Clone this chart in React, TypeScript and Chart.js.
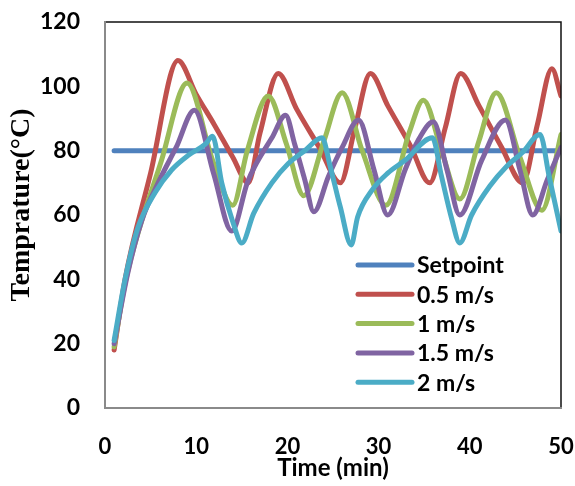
import { useEffect, useRef } from "react";
import { Chart, registerables } from "chart.js";

Chart.register(...registerables);

// Setpoint
const setpointTime = [1, 50];
const setpointTemp = [80, 80];

// 0.5 m/s
const time05 = [1, 2.2, 5, 8, 10, 12, 14, 15.7, 17, 19, 21, 23.5, 25.8, 27.4, 29.1, 31, 33.5, 35.6, 37.3, 39, 41, 43.5, 45.8, 47.4, 49, 50];
const temp05 = [18, 40, 73, 108, 97.5, 88, 78, 70, 85.5, 104, 93, 81, 70, 87, 104, 94, 81.5, 70, 87, 104, 94, 81, 70, 88, 105.5, 97];

// 1 m/s
const time1 = [1, 2.3, 6.2, 9, 11.8, 14, 15.6, 17.9, 19.9, 21.8, 24, 26, 28.2, 30.8, 33.4, 34.9, 37, 38.9, 41, 42.9, 45.5, 47.9, 50];
const temp1 = [19, 40, 77, 101, 77, 63, 80, 97, 82, 66, 83, 98, 80, 63, 86, 95.7, 79, 65, 83, 98, 78, 61.5, 85];

// 1.5 m/s
const time15 = [1, 2.5, 4, 6, 7.8, 9.8, 11.9, 13.9, 15.6, 16.4, 18.3, 19.8, 20.8, 21.9, 22.9, 24.5, 26, 27.8, 29.5, 31, 32.9, 34.3, 36, 37.5, 38.9, 41.3, 43.9, 45.5, 46.9, 48.5, 50];
const temp15 = [20, 42, 58, 71, 81, 92.6, 73, 55, 70, 75, 84, 91, 82, 71, 61, 72, 81, 89.5, 74, 60, 74, 83, 89, 74, 60, 77, 89.5, 74, 60, 71, 81];

// 2 m/s
const time2 = [1, 2.2, 3.6, 5.5, 7.3, 9.1, 11, 11.8, 12.8, 14, 15, 16.3, 18.3, 20.1, 21.9, 23.8, 24.7, 25.8, 27, 27.7, 29.3, 31, 32.9, 35.9, 36.9, 38, 38.9, 40.2, 42.2, 44, 45.8, 47.7, 48.7, 50];
const temp2 = [21, 40, 56, 67, 74, 78.5, 82, 84.5, 70, 58, 51.3, 60.5, 70, 76, 80, 84, 75, 62.5, 50.7, 59.4, 67.8, 73, 77, 84, 72, 59, 51.3, 60, 69, 75, 79.5, 85, 72, 55];

const xTicks = [0, 10, 20, 30, 40, 50];
const yTicks = [0, 20, 40, 60, 80, 100, 120];

const seriesLabels = ["Setpoint", "0.5 m/s", "1 m/s", "1.5 m/s", "2 m/s"];
const seriesColors = ["#4F81BD", "#C0504D", "#9BBB59", "#8064A2", "#4BACC6"];

const LABEL_FONT = "Lato, 'Open Sans', sans-serif";

function toPoints(xs: number[], ys: number[]) {
  return xs.map((x, i) => ({ x, y: ys[i] }));
}

// Box around the plot: dark on top/right, grey on left/bottom
const framePlugin = {
  id: "plotFrame",
  afterDraw(chart: any) {
    const { ctx, chartArea } = chart;
    const { left, right, top, bottom } = chartArea;
    ctx.save();
    ctx.lineCap = "square";
    ctx.strokeStyle = "#111";
    ctx.lineWidth = 1.5;
    ctx.beginPath();
    ctx.moveTo(left, top);
    ctx.lineTo(right, top);
    ctx.lineTo(right, bottom);
    ctx.stroke();
    ctx.strokeStyle = "#8a8a8a";
    ctx.lineWidth = 2;
    ctx.beginPath();
    ctx.moveTo(left, top);
    ctx.lineTo(left, bottom);
    ctx.lineTo(right, bottom);
    ctx.stroke();
    ctx.restore();
  },
};

// Legend drawn inside the lower-right corner of the plot
const insideLegendPlugin = {
  id: "insideLegend",
  afterDraw(chart: any) {
    const { ctx, chartArea } = chart;
    const x0 = chartArea.right - 203;
    const x1 = chartArea.right - 149;
    const tx = chartArea.right - 144;
    const y0 = chartArea.bottom - 143;
    const step = 29.3;
    ctx.save();
    chart.data.datasets.forEach((ds: any, i: number) => {
      const y = y0 + i * step;
      ctx.strokeStyle = ds.borderColor;
      ctx.lineWidth = 5;
      ctx.lineCap = "round";
      ctx.beginPath();
      ctx.moveTo(x0, y);
      ctx.lineTo(x1, y);
      ctx.stroke();
      ctx.fillStyle = "#000";
      ctx.font = `bold 23px ${LABEL_FONT}`;
      ctx.textAlign = "left";
      ctx.textBaseline = "middle";
      ctx.fillText(ds.label, tx, y + 1);
    });
    ctx.restore();
  },
};

// Rotated y-axis title
const yTitlePlugin = {
  id: "yTitle",
  afterDraw(chart: any) {
    const { ctx, chartArea } = chart;
    ctx.save();
    ctx.translate(22, (chartArea.top + chartArea.bottom) / 2 - 10);
    ctx.rotate(-Math.PI / 2);
    ctx.fillStyle = "#000";
    ctx.font = "bold 28px 'Liberation Serif', 'Times New Roman', serif";
    ctx.textAlign = "center";
    ctx.textBaseline = "middle";
    ctx.fillText("Temprature(°C)", 0, 0);
    ctx.restore();
  },
};

function clearScalePadding(scale: any) {
  scale.paddingLeft = 0;
  scale.paddingRight = 0;
  scale.paddingTop = 0;
  scale.paddingBottom = 0;
}

export default function App() {
  const canvasRef = useRef<HTMLCanvasElement>(null);

  useEffect(() => {
    const canvas = canvasRef.current;
    if (!canvas) return;

    const pairs = [
      [setpointTime, setpointTemp],
      [time05, temp05],
      [time1, temp1],
      [time15, temp15],
      [time2, temp2],
    ];

    const datasets = pairs.map(([xs, ys], i) => ({
      label: seriesLabels[i],
      data: toPoints(xs, ys),
      borderColor: seriesColors[i],
      backgroundColor: seriesColors[i],
      borderWidth: 5,
      pointRadius: 0,
      pointHoverRadius: 0,
      fill: false,
      cubicInterpolationMode: "monotone" as const,
      borderCapStyle: "round" as const,
      borderJoinStyle: "round" as const,
      order: pairs.length - i,
      clip: 0,
    }));

    const chart = new Chart(canvas, {
      type: "line",
      data: { datasets },
      options: {
        animation: false,
        responsive: false,
        events: [],
        layout: { autoPadding: false, padding: { top: 22, right: 14, left: 0, bottom: 0 } },
        plugins: {
          legend: { display: false },
          tooltip: { enabled: false },
        },
        scales: {
          x: {
            type: "linear",
            min: 0,
            max: 50,
            afterBuildTicks: (scale: any) => {
              scale.ticks = xTicks.map((v) => ({ value: v }));
            },
            ticks: {
              color: "#000",
              padding: 26,
              maxRotation: 0,
              font: { family: LABEL_FONT, weight: "bold", size: 22 },
            },
            grid: { display: false, drawTicks: false },
            border: { display: false },
            title: {
              display: true,
              text: "Time (min)",
              color: "#000",
              font: { family: LABEL_FONT, weight: "bold", size: 24 },
              padding: { top: 0, bottom: 3 },
            },
            afterFit: (scale: any) => {
              scale.height = 78;
              clearScalePadding(scale);
            },
          },
          y: {
            type: "linear",
            min: 0,
            max: 120,
            afterBuildTicks: (scale: any) => {
              scale.ticks = yTicks.map((v) => ({ value: v }));
            },
            ticks: {
              color: "#000",
              padding: 25,
              font: { family: LABEL_FONT, weight: "bold", size: 23 },
            },
            grid: { display: false, drawTicks: false },
            border: { display: false },
            afterFit: (scale: any) => {
              scale.width = 105;
              clearScalePadding(scale);
            },
          },
        },
      },
      plugins: [framePlugin, insideLegendPlugin, yTitlePlugin],
    });

    return () => chart.destroy();
  }, []);

  return (
    <div style={{ position: "absolute", left: 0, top: 0, width: 575, height: 486, background: "#fff" }}>
      <canvas ref={canvasRef} width={575} height={486} style={{ display: "block" }} />
    </div>
  );
}
